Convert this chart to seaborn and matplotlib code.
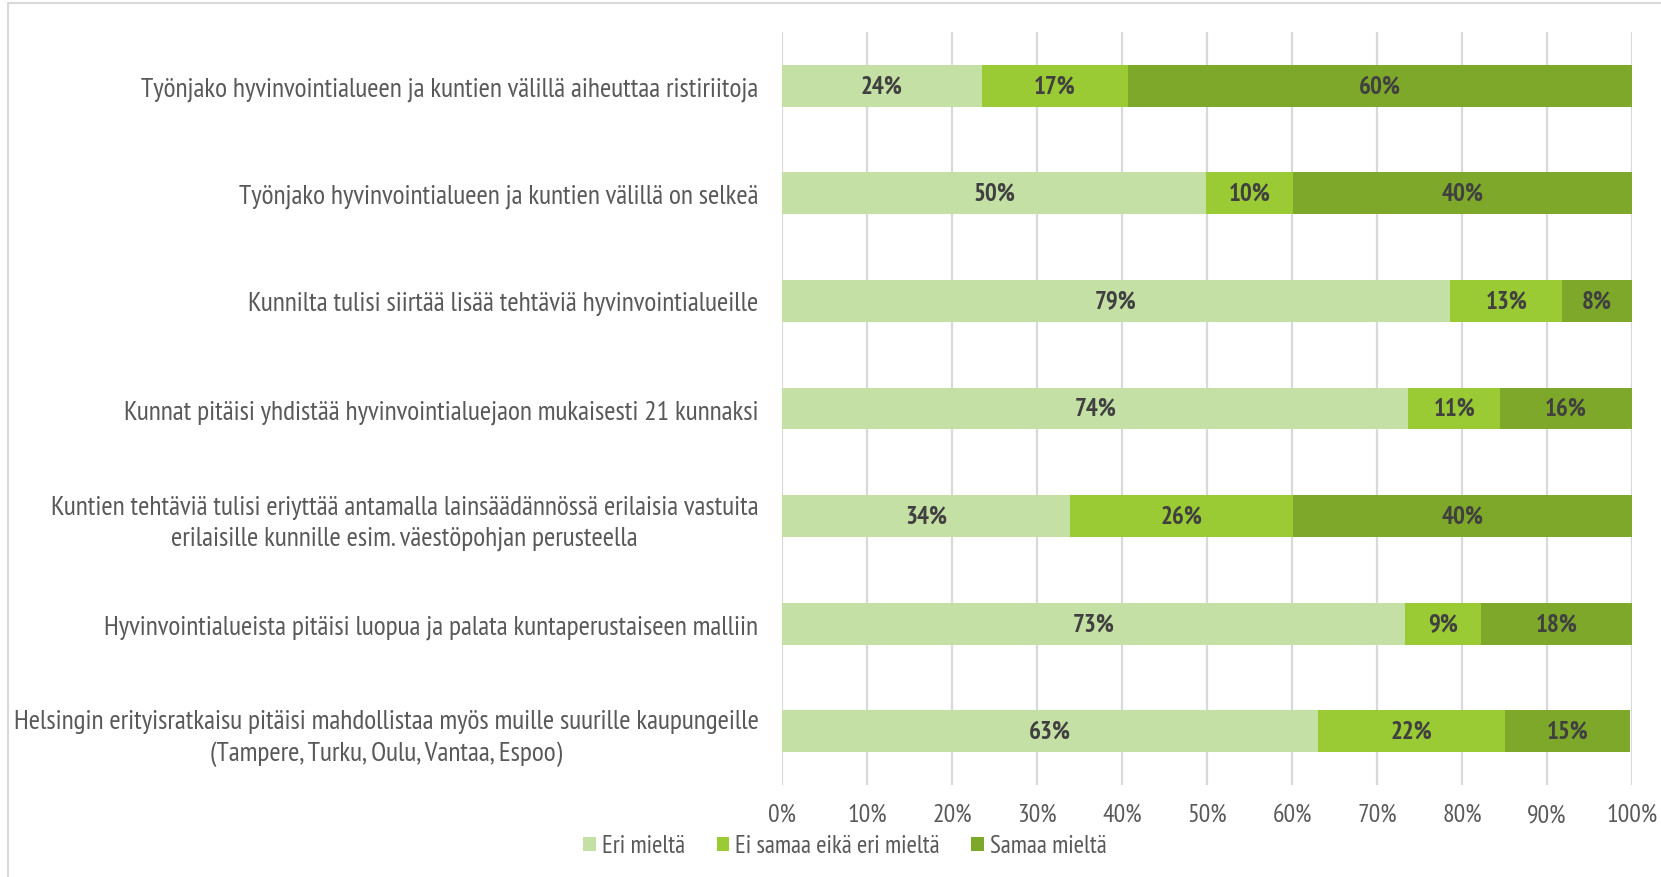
import matplotlib
matplotlib.use("Agg")
import matplotlib.pyplot as plt
from matplotlib.patches import Patch
from matplotlib.lines import Line2D
import seaborn as sns
import pandas as pd
import numpy as np

categories = [
    "Työnjako hyvinvointialueen ja kuntien välillä aiheuttaa ristiriitoja",
    "Työnjako hyvinvointialueen ja kuntien välillä on selkeä",
    "Kunnilta tulisi siirtää lisää tehtäviä hyvinvointialueille",
    "Kunnat pitäisi yhdistää hyvinvointialuejaon mukaisesti 21 kunnaksi",
    "Kuntien tehtäviä tulisi eriyttää antamalla lainsäädännössä erilaisia vastuita\nerilaisille kunnille esim. väestöpohjan perusteella",
    "Hyvinvointialueista pitäisi luopua ja palata kuntaperustaiseen malliin",
    "Helsingin erityisratkaisu pitäisi mahdollistaa myös muille suurille kaupungeille\n(Tampere, Turku, Oulu, Vantaa, Espoo)",
]
series = ["Eri mieltä", "Ei samaa eikä eri mieltä", "Samaa mieltä"]
eri = [23.5, 49.9, 78.6, 73.7, 33.9, 73.3, 63.1]
ei = [17.2, 10.2, 13.2, 10.8, 26.2, 8.9, 22.0]
samaa = [59.3, 39.9, 8.2, 15.5, 39.9, 17.8, 14.7]
labels_eri = ["24%", "50%", "79%", "74%", "34%", "73%", "63%"]
labels_ei = ["17%", "10%", "13%", "11%", "26%", "9%", "22%"]
labels_samaa = ["60%", "40%", "8%", "16%", "40%", "18%", "15%"]
xticks = [0, 10, 20, 30, 40, 50, 60, 70, 80, 90, 100]
xtick_labels = [f"{t}%" for t in xticks]

colors = ["#C5E0A5", "#9ACA34", "#7EA82A"]

sns.set_theme(style="white")
plt.rcParams["font.family"] = ["PT Sans Narrow", "DejaVu Sans"]

W, H = 1661, 878
fig = plt.figure(figsize=(W / 100, H / 100), dpi=100)
ax = fig.add_axes([782 / W, 1 - 786 / H, (1632 - 782) / W, (786 - 33) / H])

df = pd.DataFrame({"cat": categories, "eri": eri, "ei": ei, "samaa": samaa})
df["c1"] = df["eri"]
df["c2"] = df["eri"] + df["ei"]
df["c3"] = df["eri"] + df["ei"] + df["samaa"]

for col, color in zip(["c3", "c2", "c1"], colors[::-1]):
    sns.barplot(data=df, x=col, y="cat", order=categories, color=color,
                width=0.39, ax=ax, saturation=1, edgecolor="none", zorder=3)

label_sets = [labels_eri, labels_ei, labels_samaa]
starts = [np.zeros(len(categories)), df["c1"].values, df["c2"].values]
vals = [df["eri"].values, df["ei"].values, df["samaa"].values]
for labs, st, vv in zip(label_sets, starts, vals):
    for i, (lab, s, v) in enumerate(zip(labs, st, vv)):
        ax.text(s + v / 2, i, lab, ha="center", va="center", fontsize=18,
                fontweight="bold", color="#404040", zorder=5)

ax.set_xlim(0, 100)
ax.set_ylim(6.5, -0.5)
ax.set_xticks(xticks)
ax.set_xticklabels(xtick_labels)
ax.set_xlabel("")
ax.set_ylabel("")
ax.grid(axis="x", color="#D9D9D9", linewidth=1.6, zorder=0)
ax.grid(axis="y", visible=False)
for sp in ax.spines.values():
    sp.set_visible(False)
ax.tick_params(axis="x", length=0, pad=13, labelsize=18.5, labelcolor="#595959")
ax.tick_params(axis="y", length=0, pad=17, labelsize=19.8, labelcolor="#595959")
for t in ax.get_yticklabels():
    t.set_multialignment("center")
    t.set_linespacing(1.35)

handles = [Patch(facecolor=c, edgecolor="none") for c in colors]
fig.legend(handles, series, loc="center", bbox_to_anchor=(845 / W, 1 - 847 / H),
           ncol=3, frameon=False, fontsize=18, labelcolor="#595959",
           handlelength=0.5, handleheight=0.5, handletextpad=0.25, columnspacing=1.25)

fig.add_artist(Line2D([8 / W, 8 / W], [0, 1 - 4 / H], color="#D9D9D9", lw=1.5))
fig.add_artist(Line2D([8 / W, 1], [1 - 4 / H, 1 - 4 / H], color="#D9D9D9", lw=1.5))

fig.savefig("out.png", dpi=100, facecolor="white")
